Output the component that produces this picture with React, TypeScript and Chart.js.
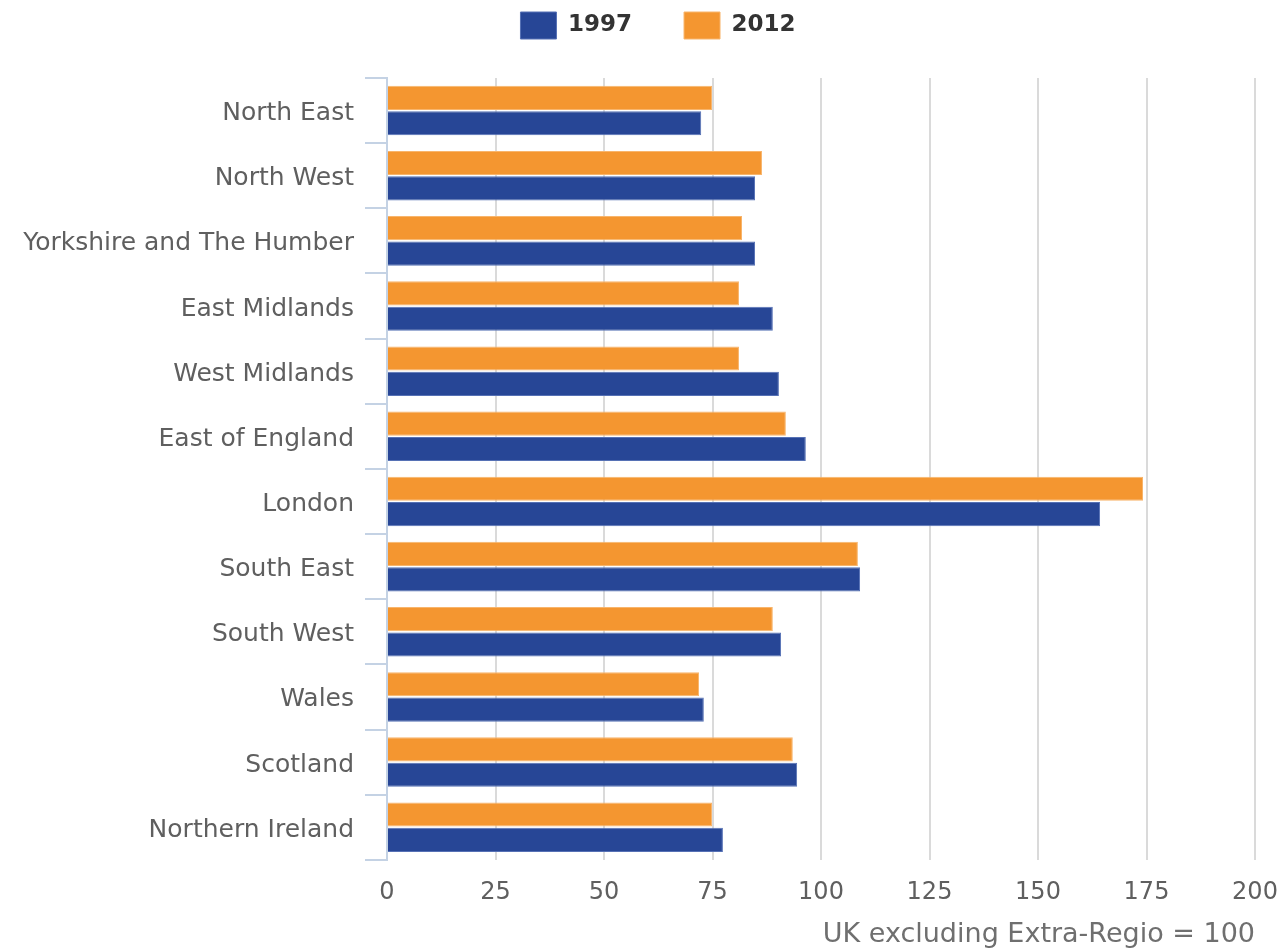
import React, { useEffect, useRef } from "react";
import { Chart, registerables } from "chart.js";

Chart.register(...registerables);

const REGIONS = [
  "North East",
  "North West",
  "Yorkshire and The Humber",
  "East Midlands",
  "West Midlands",
  "East of England",
  "London",
  "South East",
  "South West",
  "Wales",
  "Scotland",
  "Northern Ireland",
];

const VALUES_2012 = [74.9, 86.4, 81.8, 81.1, 81.1, 91.9, 174.2, 108.5, 88.9, 71.9, 93.5, 74.9];
const VALUES_1997 = [72.4, 84.8, 84.8, 88.9, 90.3, 96.5, 164.3, 109.0, 90.8, 73.0, 94.5, 77.4];

const SERIES_LABELS = ["2012", "1997"];
const X_TITLE = "UK excluding Extra-Regio = 100";
const X_MIN = 0;
const X_MAX = 200;
const X_STEP = 25;

const BLUE = "#274696";
const ORANGE = "#f49630";
const FONT = "'DejaVu Sans', sans-serif";

export default function App() {
  const canvasRef = useRef<HTMLCanvasElement | null>(null);

  useEffect(() => {
    const canvas = canvasRef.current;
    if (!canvas) return;

    const legendSpacer = {
      id: "legendSpacer",
      beforeInit(chart: any) {
        const legend = chart.legend;
        if (!legend) return;
        const originalFit = legend.fit;
        legend.fit = function fit() {
          originalFit.bind(legend)();
          this.height += 29;
        };
      },
      beforeDraw(chart: any) {
        const legend = chart.legend;
        if (!legend) return;
        legend.left = 61;
        legend.right = 1255;
        legend.width = 1255 - 61;
      },
    };

    const chart = new Chart(canvas, {
      type: "bar",
      data: {
        labels: REGIONS,
        datasets: [
          {
            label: SERIES_LABELS[0],
            data: VALUES_2012,
            backgroundColor: ORANGE,
            borderColor: "#f8b56c",
            borderWidth: 1,
            categoryPercentage: 0.78,
            barPercentage: 0.95,
          },
          {
            label: SERIES_LABELS[1],
            data: VALUES_1997,
            backgroundColor: BLUE,
            borderColor: "#5671b5",
            borderWidth: 1,
            categoryPercentage: 0.78,
            barPercentage: 0.95,
          },
        ],
      },
      options: {
        indexAxis: "y",
        animation: false,
        responsive: false,
        maintainAspectRatio: false,
        layout: { padding: { left: 0, right: 33, top: 0, bottom: 0 } },
        plugins: {
          tooltip: { enabled: false },
          legend: {
            display: true,
            position: "top",
            reverse: true,
            labels: {
              boxWidth: 36,
              boxHeight: 27,
              padding: 12,
              color: "#333333",
              font: { family: FONT, size: 23, weight: "bold" },
              generateLabels(ch: any) {
                const items = Chart.defaults.plugins.legend.labels.generateLabels(ch);
                return items.map((it: any) =>
                  it.datasetIndex === 1 ? { ...it, text: it.text + "     " } : it
                );
              },
            },
          },
        },
        scales: {
          x: {
            type: "linear",
            min: X_MIN,
            max: X_MAX,
            afterFit(scale: any) {
              scale.paddingRight = 0;
            },
            ticks: {
              stepSize: X_STEP,
              color: "#5f5f5f",
              padding: 19,
              font: { family: FONT, size: 24 },
            },
            grid: {
              drawTicks: false,
              lineWidth: 2,
              color: (ctx: any) => (ctx.index === 0 ? "#8a8a8a" : "#dadada"),
            },
            border: { display: false },
            title: {
              display: true,
              text: X_TITLE,
              align: "end",
              color: "#6f6f6f",
              font: { family: FONT, size: 27 },
              padding: { top: -8, bottom: -3 },
            },
          },
          y: {
            type: "category",
            offset: true,
            afterFit(scale: any) {
              scale.width = 387;
            },
            ticks: {
              color: "#5f5f5f",
              padding: 11,
              labelOffset: 3,
              font: { family: FONT, size: 25 },
            },
            grid: {
              offset: true,
              drawOnChartArea: false,
              drawTicks: true,
              tickLength: 22,
              lineWidth: 2,
              color: "#c4d2e4",
            },
            border: { display: true, color: "#c4d2e4", width: 2 },
          },
        },
      },
      plugins: [legendSpacer],
    } as any);

    return () => chart.destroy();
  }, []);

  return (
    <div style={{ position: "absolute", left: 0, top: 0, width: 1288, height: 948, background: "#fff" }}>
      <canvas ref={canvasRef} width={1288} height={948} style={{ width: 1288, height: 948, display: "block" }} />
    </div>
  );
}
